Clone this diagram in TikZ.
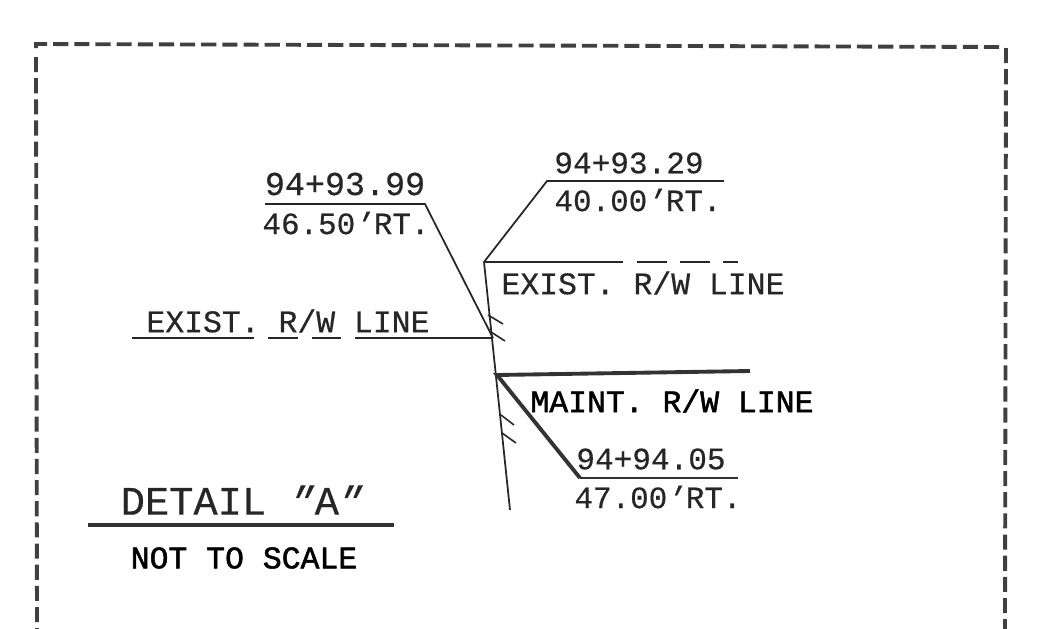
\documentclass[tikz,border=0pt]{standalone}
\usepackage{fontspec}
\newfontfamily\cadfont[FakeBold=0.5]{Liberation Mono}
\newfontfamily\cadheavy[FakeBold=1.6]{Liberation Mono}
\newfontfamily\cadslant[FakeBold=0.5,FakeSlant=0.45]{Liberation Mono}
\newcommand{\slantmark}[1]{\kern-0.2em{\cadslant#1}\kern0.2em}
\usetikzlibrary{calc}
\tikzset{
    cadtext/.style={inner sep=0pt, text=black!85, font=\cadfont\fontsize{17.6}{18}\selectfont},
    cadexist/.style={cadtext, font=\cadfont\fontsize{17.9}{18}\selectfont},
    cadstation/.style={cadtext, font=\cadfont\fontsize{17.7}{18}\selectfont},
    cadbold/.style={cadtext, text=black, font=\cadheavy\fontsize{17.9}{18}\selectfont},
    leader/.style={line width=1pt, black!85},
    heavy/.style={line width=2.2pt, black!80},
    hatch/.style={line width=0.9pt, black!85},
    border/.style={line width=2.2pt, black!75, dash pattern=on 8.6pt off 3.44pt}
}

\begin{document}
\begin{tikzpicture}[x=0.02cm, y=-0.02cm]
    \useasboundingbox (0,0) rectangle (1039,629);

    % Dashed sheet border
    \draw[border] (36,48) -- (36,44) -- (1002,47);
    \draw[border] (36,57) -- (37,629);
    \draw[border] (1006,48) -- (1005,629);

    % Upper left callout
    \node[cadtext, font=\cadfont\fontsize{19}{19}\selectfont] (stationA) at (345,184) {94+93.99};
    \node[cadtext] (offsetA) at (346,223) {46.50\slantmark{'}RT.};
    \coordinate (kneeA) at (425,204);
    \coordinate (tailA) at (265,204);
    \coordinate (footA) at (493,338);
    \draw[leader] (tailA) -- (kneeA) -- (footA);

    % Upper right callout
    \node[cadstation] (stationB) at (629,163) {94+93.29};
    \node[cadtext] (offsetB) at (638,200) {40.00\slantmark{'}RT.};
    \coordinate (tailB) at (724,181);
    \coordinate (kneeB) at (547,181);
    \coordinate (cornerB) at (484,262);
    \draw[leader] (tailB) -- (kneeB) -- (cornerB);

    % Long vertical line
    \coordinate (bottomB) at (510,510);
    \draw[leader] (cornerB) -- (bottomB);

    % Existing R/W line, right
    \node[cadexist] (existR) at (643,283) {EXIST. R/W LINE};
    \draw[leader] (cornerB) -- (623,262);
    \draw[leader] (637,262) -- (667,262);
    \draw[leader] (680,262) -- (710,262);
    \draw[leader] (723,262) -- (738,262);

    % Existing R/W line, left
    \node[cadexist] (existL) at (288,321) {EXIST. R/W LINE};
    \draw[leader] (132,338) -- (254,338);
    \draw[leader] (268,338) -- (298,338);
    \draw[leader] (312,338) -- (341,338);
    \draw[leader] (355,338) -- (footA);

    % Ticks on the vertical line
    \foreach \xa/\ya/\xb/\yb in {488/315/503/324, 491/332/505/341, 501/415/514/425, 502/433/516/443}
        \draw[hatch] (\xa,\ya) -- (\xb,\yb);

    % Maintained R/W line
    \coordinate (cornerM) at (497,375);
    \coordinate (endM) at (750,371);
    \coordinate (kneeM) at (580,478);
    \coordinate (tailM) at (738,478);
    \draw[heavy] (endM) -- (cornerM) -- (kneeM);
    \draw[heavy, line width=1.6pt] (kneeM) -- (tailM);
    \node[cadbold] (maint) at (672,401) {MAINT. R/W LINE};
    \node[cadstation] (stationC) at (651,459) {94+94.05};
    \node[cadtext] (offsetC) at (658,497) {47.00\slantmark{'}RT.};

    % Title block
    \node[cadtext, font=\cadfont\fontsize{23}{24}\selectfont] (title) at (242,500) {DETAIL \slantmark{"}A\slantmark{"}};
    \draw[heavy] (88,525) -- (394,525);
    \node[cadbold] (scale) at (244,558) {NOT TO SCALE};
\end{tikzpicture}
\end{document}
